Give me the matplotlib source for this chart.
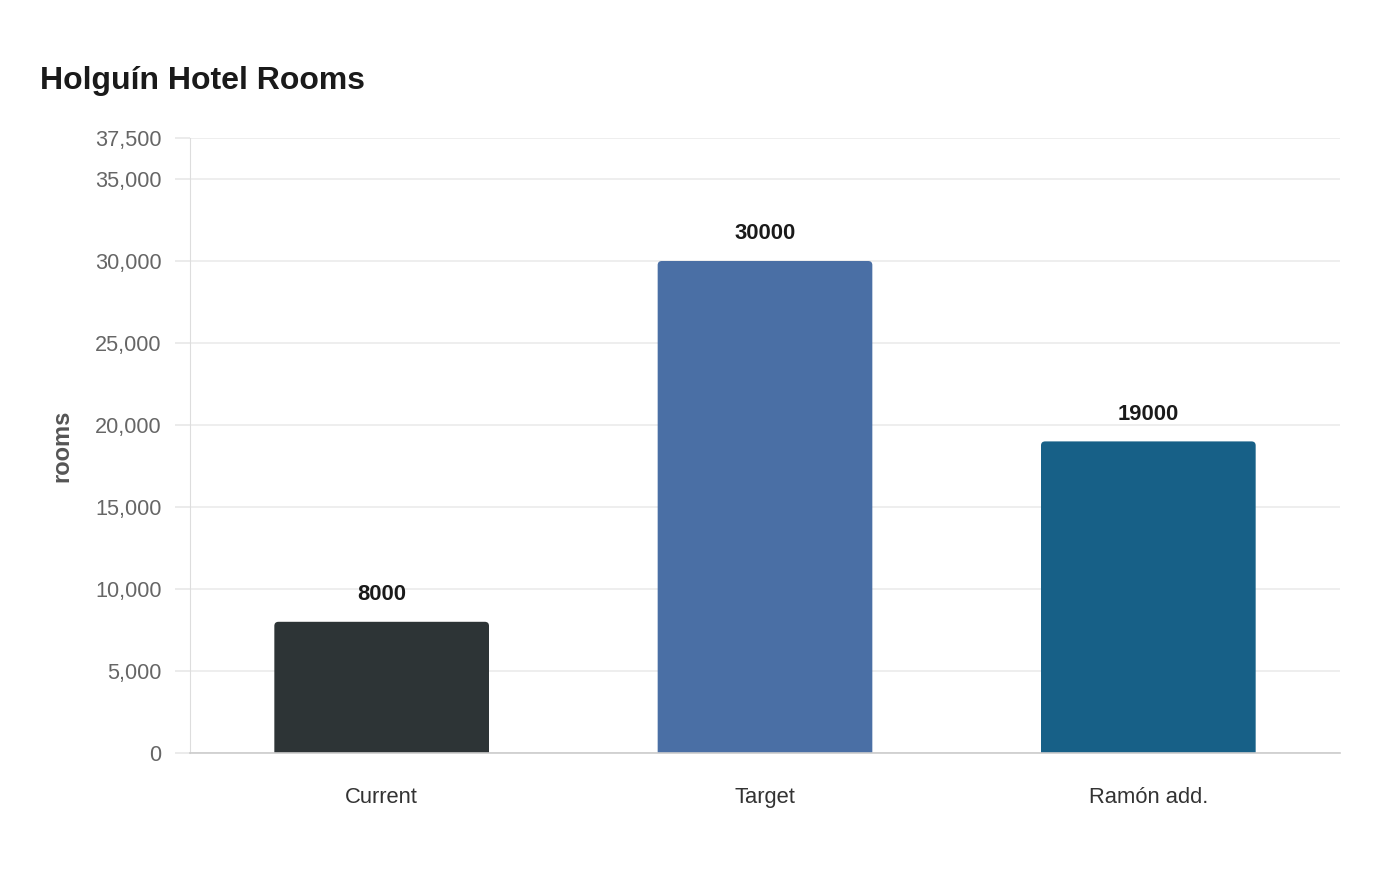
import matplotlib
matplotlib.use('Agg')
import matplotlib.pyplot as plt
from matplotlib.path import Path
from matplotlib.patches import PathPatch
from matplotlib.ticker import FuncFormatter

categories = ['Current', 'Target', 'Ramón add.']
rooms = [8000, 30000, 19000]
bar_colors = ['#2d3436', '#4a6fa5', '#176087']
yticks = [0, 5000, 10000, 15000, 20000, 25000, 30000, 35000, 37500]

plt.rcParams['font.family'] = ['Liberation Sans', 'DejaVu Sans']


def rounded_top(x0, x1, y1, rx, ry):
    # bar outline with rounded top corners (data coords)
    verts = [(x0, 0), (x0, y1 - ry), (x0, y1), (x0 + rx, y1),
             (x1 - rx, y1), (x1, y1), (x1, y1 - ry), (x1, 0), (x0, 0)]
    codes = [Path.MOVETO, Path.LINETO, Path.CURVE3, Path.CURVE3,
             Path.LINETO, Path.CURVE3, Path.CURVE3, Path.LINETO, Path.CLOSEPOLY]
    return Path(verts, codes)


fig = plt.figure(figsize=(14, 8.8), dpi=100)
ax = fig.add_axes([190 / 1400, 1 - 753 / 880, 1150 / 1400, 615 / 880])

width = 0.56
x = list(range(len(categories)))
bars = ax.bar(x, rooms, width=width, color=bar_colors, zorder=2)
for b, c in zip(bars, bar_colors):
    b.set_visible(False)
    p = rounded_top(b.get_x(), b.get_x() + b.get_width(), b.get_height(), 0.011, 250)
    ax.add_patch(PathPatch(p, facecolor=c, edgecolor='none', zorder=2))
    ax.text(b.get_x() + b.get_width() / 2, b.get_height() + 1650, str(int(b.get_height())),
            ha='center', va='center', fontsize=15.8, fontweight='bold', color='#1a1a1a')

ax.set_xlim(-0.5, 2.5)
ax.set_ylim(0, 37500)
ax.set_xticks(x)
ax.set_xticklabels(categories, fontsize=15.8, color='#333333')
ax.set_yticks(yticks)
ax.yaxis.set_major_formatter(FuncFormatter(lambda v, pos: f'{int(v):,}'))
ax.tick_params(axis='y', labelsize=15.6, labelcolor='#666666', length=11, color='#e8e8e8', width=1.2, pad=9.4)
ax.tick_params(axis='x', length=0, pad=24.5)
ax.grid(axis='y', color='#ebebeb', linewidth=1.2, zorder=0)
ax.set_axisbelow(True)

for s in ['top', 'right']:
    ax.spines[s].set_visible(False)
ax.spines['left'].set_color('#dddddd')
ax.spines['bottom'].set_color('#cccccc')
ax.spines['bottom'].set_linewidth(1.2)

ax.set_ylabel('rooms', fontsize=17, fontweight='bold', color='#555555')
ax.yaxis.set_label_coords(-0.101, 0.5)

fig.text(40 / 1400, 1 - 81 / 880, 'Holguín Hotel Rooms', fontsize=23, fontweight='bold',
         color='#1a1a1a', ha='left', va='center')

fig.savefig('out.png', dpi=100, facecolor='white')
